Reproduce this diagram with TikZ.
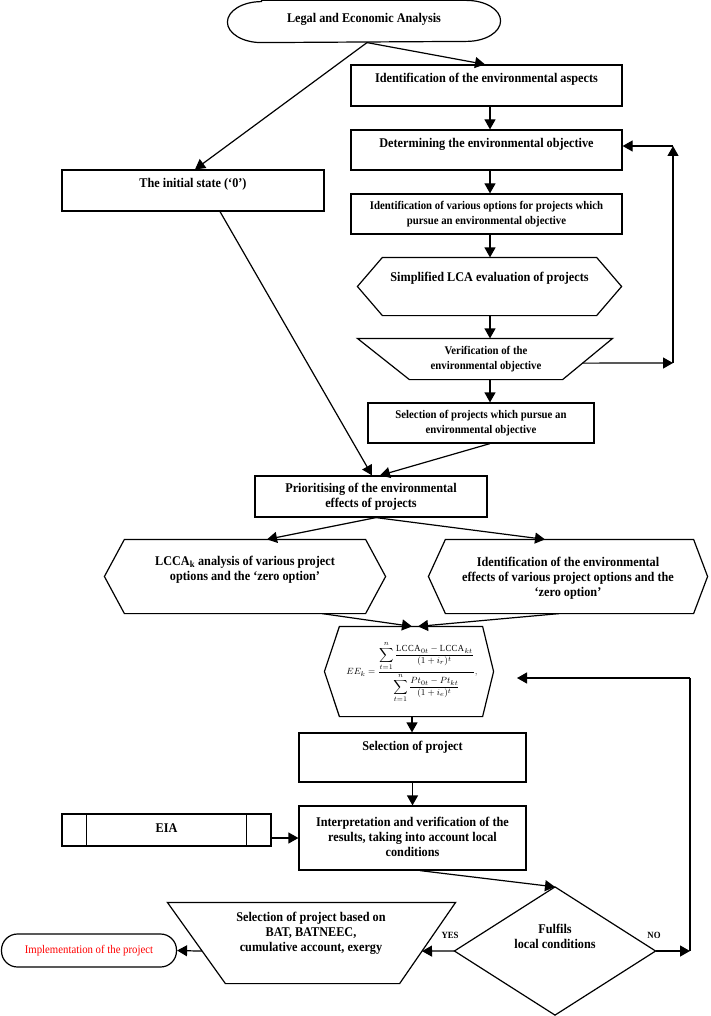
\documentclass[tikz,border=0pt]{standalone}
\usepackage{fontspec}
\setmainfont{Liberation Serif}[FakeStretch=0.92]
\usetikzlibrary{arrows.meta,calc}
\begin{document}
\begin{tikzpicture}[x=1pt,y=-1pt,line width=1.2pt,
  big/.style={font=\fontsize{13.3}{15}\selectfont\bfseries,align=center,inner sep=0pt},
  small/.style={font=\fontsize{11.7}{15}\selectfont\bfseries,align=center,inner sep=0pt},
  lbl/.style={font=\fontsize{9.5}{11}\selectfont\bfseries,inner sep=0pt},
  box/.style={draw,rectangle,inner sep=0pt},
  frame/.style={rectangle,inner sep=0pt,draw=none},
  arr/.style={-{Triangle[length=10pt,width=11pt]}}]
\useasboundingbox (0,0) rectangle (710,1016);

% ---- shapes ----
\node[frame,minimum width=272,minimum height=41] (legal) at (364,21.5) {};
\draw ([xshift=34pt]legal.north west) -- ([xshift=-34pt]legal.north east)
  arc[start angle=-90,end angle=90,x radius=34,y radius=20.5]
  -- ([xshift=34pt]legal.south west)
  arc[start angle=90,end angle=270,x radius=34,y radius=20.5] -- cycle;
\node[big] at (364,19) {Legal and Economic Analysis};

\node[box,minimum width=271,minimum height=41] (aspects) at (486.5,85.5) {};
\node[big] at (486.5,79) {Identification of the environmental aspects};

\node[box,minimum width=271,minimum height=40] (determ) at (486.5,150) {};
\node[big] at (486.5,144) {Determining the environmental objective};

\node[box,minimum width=262,minimum height=41] (initial) at (193,190.5) {};
\node[big] at (193,184) {The initial state (‘0’)};

\node[box,minimum width=271,minimum height=40] (options) at (486.5,214) {};
\node[small] at (486.5,214.5) {Identification of various options for projects which\\pursue an environmental objective};

\node[frame,minimum width=263,minimum height=57] (lca) at (489.5,286.5) {};
\draw ([xshift=25pt]lca.north west) -- ([xshift=-25pt]lca.north east) -- (lca.east)
  -- ([xshift=-25pt]lca.south east) -- ([xshift=25pt]lca.south west) -- (lca.west) -- cycle;
\node[big] at (489.5,278) {Simplified LCA evaluation of projects};

\node[frame,minimum width=254,minimum height=40] (verif) at (485,359) {};
\draw (verif.north west) -- (verif.north east) -- ([xshift=-50pt]verif.south east)
  -- ([xshift=52pt]verif.south west) -- cycle;
\node[small] at (486,359) {Verification of the\\environmental objective};

\node[box,minimum width=226,minimum height=40] (selproj) at (481,423) {};
\node[small] at (481,423.5) {Selection of projects which pursue an\\environmental objective};

\node[box,minimum width=232,minimum height=41] (prior) at (371,496.5) {};
\node[big] at (371,497) {Prioritising of the environmental\\effects of projects};

\node[frame,minimum width=280,minimum height=73] (lhex) at (245,576.5) {};
\draw ([xshift=20pt]lhex.north west) -- ([xshift=-20pt]lhex.north east) -- (lhex.east)
  -- ([xshift=-20pt]lhex.south east) -- ([xshift=20pt]lhex.south west) -- (lhex.west) -- cycle;
\node[big] at (245,569.5) {LCCA\textsubscript{k} analysis of various project\\options and the ‘zero option’};

\node[frame,minimum width=278,minimum height=73] (rhex) at (568,576.5) {};
\draw ([xshift=17pt]rhex.north west) -- ([xshift=-14pt]rhex.north east) -- (rhex.east)
  -- ([xshift=-14pt]rhex.south east) -- ([xshift=17pt]rhex.south west) -- (rhex.west) -- cycle;
\node[big] at (568,578) {Identification of the environmental\\effects of various project options and the\\‘zero option’};

\node[frame,minimum width=168,minimum height=89] (formula) at (409,671.5) {};
\draw ([xshift=15pt]formula.north west) -- ([xshift=-11pt]formula.north east) -- (formula.east)
  -- ([xshift=-11pt]formula.south east) -- ([xshift=15pt]formula.south west) -- (formula.west) -- cycle;
\node[inner sep=0pt,font=\fontsize{9.3}{11}\selectfont] at (412,672)
  {$EE_k=\displaystyle\frac{\displaystyle\sum_{t=1}^{n}\frac{\mathrm{LCCA}_{0t}-\mathrm{LCCA}_{kt}}{(1+i_r)^t}}{\displaystyle\sum_{t=1}^{n}\frac{Pt_{0t}-Pt_{kt}}{(1+i_e)^t}},$};

\node[box,minimum width=227,minimum height=49] (selection) at (412.5,757.5) {};
\node[big] at (412.5,747) {Selection of project};

\node[box,minimum width=227,minimum height=64] (interp) at (412.5,838) {};
\node[big] at (412.5,836.5) {Interpretation and verification of the\\results, taking into account local\\conditions};

\node[box,minimum width=209,minimum height=32] (eia) at (166.5,830) {};
\draw ([xshift=25pt]eia.north west) -- ([xshift=25pt]eia.south west);
\draw ([xshift=-25pt]eia.north east) -- ([xshift=-25pt]eia.south east);
\node[big] at (166.5,828) {EIA};

\node[frame,minimum width=200,minimum height=127] (dia) at (555,951) {};
\draw (dia.north) -- (dia.east) -- (dia.south) -- (dia.west) -- cycle;
\node[big] at (555,936) {Fulfils\\local conditions};

\node[frame,minimum width=287,minimum height=80] (bat) at (311.5,943) {};
\draw (bat.north west) -- (bat.north east) -- ([xshift=-56pt]bat.south east)
  -- ([xshift=58pt]bat.south west) -- cycle;
\node[big] at (311,933) {Selection of project based on\\BAT, BATNEEC,\\cumulative account, exergy};

\node[draw,rectangle,rounded corners=16pt,minimum width=175,minimum height=33] (impl) at (89,950.5) {};
\node[inner sep=0pt,text=red,font=\fontsize{11.7}{14}\selectfont] at (89,951) {Implementation of the project};

\node[lbl] at (450,935) {YES};
\node[lbl] at (654,935) {NO};

% ---- connectors ----
\draw[arr] ([xshift=3pt]legal.south) -- ([xshift=-1.5pt]aspects.north);
\draw[arr] ([xshift=3pt]legal.south) -- ([xshift=2pt]initial.north);
\draw[arr] ([xshift=3.5pt]aspects.south) -- ([xshift=3.5pt]determ.north);
\draw[arr] ([xshift=3.5pt]determ.south) -- ([xshift=3.5pt]options.north);
\draw[arr] ([xshift=3.5pt]options.south) -- ([xshift=0.5pt]lca.north);
\draw[arr] ([xshift=0.5pt]lca.south) -- ([xshift=5pt]verif.north);
\draw[arr] ([xshift=5pt]verif.south) -- ([xshift=9pt]selproj.north);

\coordinate (fb1) at (673,363);
\coordinate (fb2) at (673,146);
\draw[arr] ($(verif.north east)!0.6!([xshift=-50pt]verif.south east)$) -- (fb1);
\draw[arr] (fb1) -- (fb2);
\draw[arr] (fb2) -- (fb2 -| determ.east);

\draw[arr] ([xshift=27pt]initial.south) -- ([xshift=1pt]prior.north);
\draw[arr] ([xshift=9pt]selproj.south) -- ([xshift=9pt]prior.north);
\draw[arr] ([xshift=5pt]prior.south) -- ([xshift=22pt]lhex.north);
\draw[arr] ([xshift=5pt]prior.south) -- ([xshift=-23pt]rhex.north);
\draw[arr] ([xshift=77pt]lhex.south) -- ([xshift=3pt]formula.north);
\draw[arr] ([xshift=-9pt]rhex.south) -- ([xshift=9pt]formula.north);
\draw[arr] ([xshift=3pt]formula.south) -- ([xshift=-0.5pt]selection.north);
\draw[arr] (selection.south) -- (interp.north);
\draw[arr] (eia.east |- interp.west) -- (interp.west);
\draw[arr] ([xshift=7.5pt]interp.south) -- (dia.north);

\coordinate (batR) at ($(bat.north east)!0.6!([xshift=-56pt]bat.south east)$);
\coordinate (batL) at ($(bat.north west)!0.6!([xshift=58pt]bat.south west)$);
\draw[arr] (dia.west) -- (batR);
\draw[arr] (batL) -- (impl.east);

\coordinate (noC) at (690,951);
\coordinate (noT) at (690,678);
\coordinate (noE) at (517,678);
\draw[arr] (dia.east) -- (noC);
\draw (noC) -- (noT);
\draw[arr] (noT) -- (noE);
\end{tikzpicture}
\end{document}
